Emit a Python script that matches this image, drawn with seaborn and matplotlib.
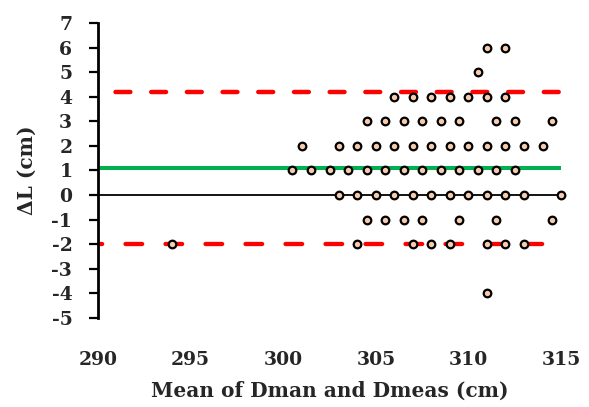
import matplotlib
matplotlib.use("Agg")
import matplotlib.pyplot as plt
import seaborn as sns
import pandas as pd

# Bland-Altman data: mean of the two lengths (x) vs their difference (y)
mean_dman_dmeas = [
    311, 312,
    310.5,
    306, 307, 308, 309, 310, 311, 312,
    304.5, 305.5, 306.5, 307.5, 308.5, 309.5, 311.5, 312.5, 314.5,
    301, 303, 304, 305, 306, 307, 308, 309, 310, 311, 312, 313, 314,
    300.5, 301.5, 302.5, 303.5, 304.5, 305.5, 306.5, 307.5, 308.5, 309.5, 310.5, 311.5, 312.5,
    303, 304, 305, 306, 307, 308, 309, 310, 311, 312, 313, 315,
    304.5, 305.5, 306.5, 307.5, 309.5, 311.5, 314.5,
    294, 304, 307, 308, 309, 311, 312, 313,
    311,
]
delta_l = [
    6, 6,
    5,
    4, 4, 4, 4, 4, 4, 4,
    3, 3, 3, 3, 3, 3, 3, 3, 3,
    2, 2, 2, 2, 2, 2, 2, 2, 2, 2, 2, 2, 2,
    1, 1, 1, 1, 1, 1, 1, 1, 1, 1, 1, 1, 1,
    0, 0, 0, 0, 0, 0, 0, 0, 0, 0, 0, 0,
    -1, -1, -1, -1, -1, -1, -1,
    -2, -2, -2, -2, -2, -2, -2, -2,
    -4,
]

bias = 1.1
upper_loa = 4.2
lower_loa = -2.0

x_ticks = [290, 295, 300, 305, 310, 315]
y_ticks = [-5, -4, -3, -2, -1, 0, 1, 2, 3, 4, 5, 6, 7]

df = pd.DataFrame({"mean": mean_dman_dmeas, "delta": delta_l})

sns.set_theme(style="white")
plt.rcParams["font.family"] = ["DejaVu Serif"]
plt.rcParams["font.weight"] = "bold"
plt.rcParams["axes.unicode_minus"] = False
plt.rcParams["lines.scale_dashes"] = False

fig = plt.figure(figsize=(5.89, 4.07), dpi=100)
ax = fig.add_axes([0.1664, 0.2187, 0.7861, 0.7248])

xmin, xmax = x_ticks[0], x_ticks[-1]

# zero axis line
ax.plot([xmin, xmax], [0, 0], color="black", lw=1.3, zorder=1, solid_capstyle="butt")
# mean difference
ax.plot([xmin, xmax], [bias, bias], color="#00B050", lw=2.9, zorder=2, solid_capstyle="butt")
# limits of agreement
ax.plot([xmin, xmax], [upper_loa, upper_loa], color="#FF0000", lw=3.2,
        linestyle=(13.1, (10.7, 15.0)), dash_capstyle="round", zorder=2)
ax.plot([xmin, xmax], [lower_loa, lower_loa], color="#FF0000", lw=3.1,
        linestyle=(9.0, (12.0, 16.8)), dash_capstyle="round", zorder=2)

sns.scatterplot(data=df, x="mean", y="delta", ax=ax, s=30, color="#F8CBAD",
                edgecolor="black", linewidth=1.6, zorder=3, clip_on=False)

ax.set_xlim(xmin, xmax)
ax.set_ylim(y_ticks[0], y_ticks[-1])
ax.set_xticks(x_ticks)
ax.set_xticklabels([str(v) for v in x_ticks], fontsize=13.5, fontweight="bold")
ax.set_yticks(y_ticks)
ax.set_yticklabels([str(v) for v in y_ticks], fontsize=13.5, fontweight="bold")

for side in ["top", "right", "bottom"]:
    ax.spines[side].set_visible(False)
ax.spines["left"].set_linewidth(2.0)
ax.spines["left"].set_color("black")

ax.tick_params(axis="y", direction="out", length=6.5, width=1.6, color="black",
               pad=12, left=True)
ax.tick_params(axis="x", length=0, pad=24)

ax.set_xlabel("Mean of Dman and Dmeas (cm)", fontsize=14.5, fontweight="bold", labelpad=8)
ax.set_ylabel("ΔL (cm)", fontsize=14.5, fontweight="bold")
ax.yaxis.set_label_coords(-0.132, 0.5)

fig.savefig("out.png", dpi=100)
